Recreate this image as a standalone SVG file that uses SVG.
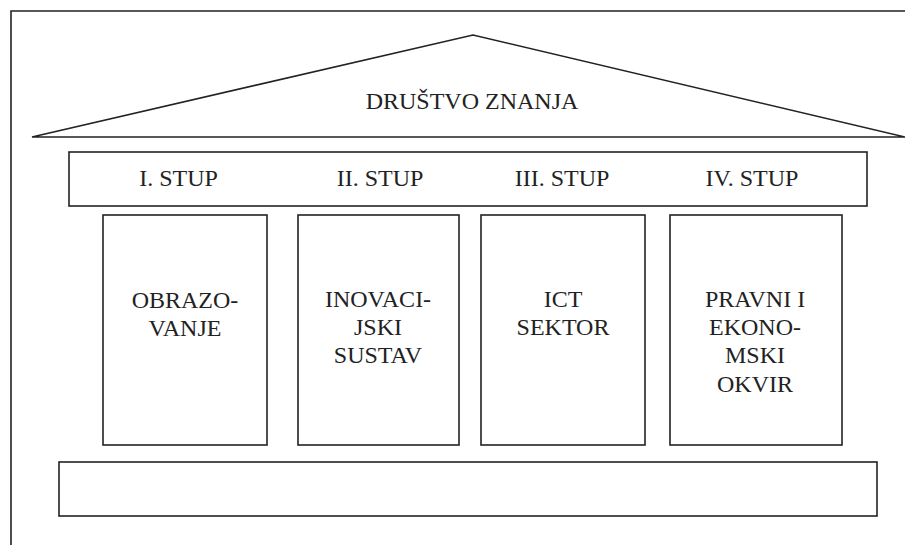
<svg xmlns="http://www.w3.org/2000/svg" width="905" height="545" viewBox="0 0 905 545" font-family="Liberation Serif, DejaVu Serif, serif">
<style>
.ln{fill:none;stroke:#222;stroke-width:1.6}
.bx{fill:#fff;stroke:#222;stroke-width:1.6}
.t{font-size:24px;fill:#222;text-anchor:middle}
</style>
<rect width="905" height="545" fill="#fff"/>
<g id="frame"><path class="ln" d="M11,545 V11 H905" stroke-width="2.2"/></g>
<g id="roof">
<polygon class="bx" points="32,137 473,35 905,137"/>
<text class="t" x="472" y="109" font-family="Liberation Serif, DejaVu Serif, serif">DRUŠTVO ZNANJA</text>
</g>
<g id="band" font-family="Liberation Serif, DejaVu Serif, serif">
<rect class="bx" x="69" y="152" width="798" height="54"/>
<text class="t" x="178.5" y="186">I. STUP</text>
<text class="t" x="380" y="186">II. STUP</text>
<text class="t" x="562" y="186">III. STUP</text>
<text class="t" x="752" y="186">IV. STUP</text>
</g>
<g id="pillar1" font-family="Liberation Serif, DejaVu Serif, serif">
<rect class="bx" x="103" y="215" width="164" height="230"/>
<text class="t" x="185" y="308">OBRAZO-</text>
<text class="t" x="185" y="336">VANJE</text>
</g>
<g id="pillar2" font-family="Liberation Serif, DejaVu Serif, serif">
<rect class="bx" x="298" y="215" width="161" height="230"/>
<text class="t" x="378" y="307">INOVACI-</text>
<text class="t" x="378" y="335">JSKI</text>
<text class="t" x="378" y="363">SUSTAV</text>
</g>
<g id="pillar3" font-family="Liberation Serif, DejaVu Serif, serif">
<rect class="bx" x="481" y="215" width="164" height="230"/>
<text class="t" x="563" y="307">ICT</text>
<text class="t" x="563" y="335">SEKTOR</text>
</g>
<g id="pillar4" font-family="Liberation Serif, DejaVu Serif, serif">
<rect class="bx" x="670" y="215" width="172" height="230"/>
<text class="t" x="755" y="307">PRAVNI I</text>
<text class="t" x="755" y="335">EKONO-</text>
<text class="t" x="755" y="363">MSKI</text>
<text class="t" x="755" y="392">OKVIR</text>
</g>
<g id="base">
<rect class="bx" x="59" y="462" width="818" height="54"/>
</g>
<g id="connectors"></g>
</svg>
